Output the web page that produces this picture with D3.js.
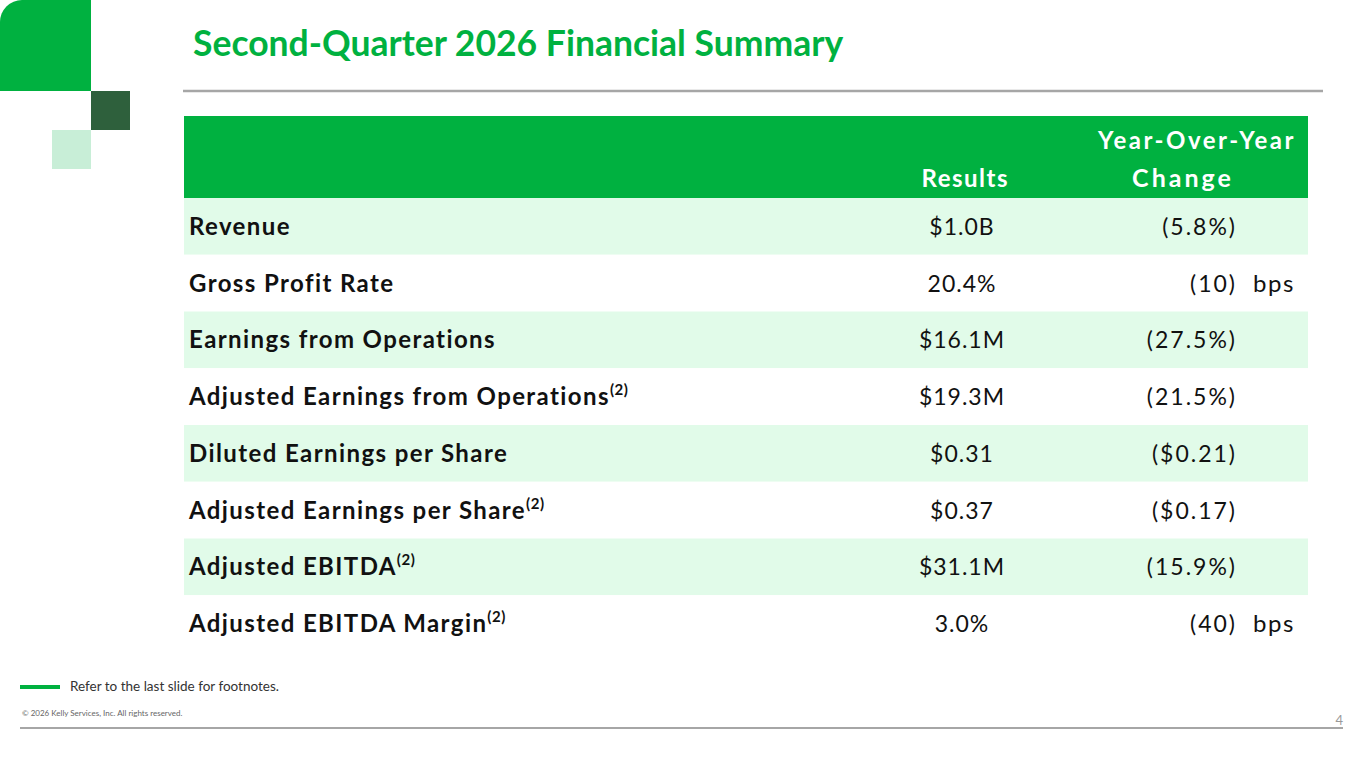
<!DOCTYPE html>
<html>
<head>
<meta charset="utf-8">
<script src="https://cdn.jsdelivr.net/npm/d3@7"></script>
<style>
body{margin:0;background:#fff;}
svg{display:block;font-family:Lato,"Noto Sans",sans-serif;}
</style>
</head>
<body>
<div id="chart"></div>
<script>
// table content
var metrics = ["Revenue","Gross Profit Rate","Earnings from Operations","Adjusted Earnings from Operations",
  "Diluted Earnings per Share","Adjusted Earnings per Share","Adjusted EBITDA","Adjusted EBITDA Margin"];
var footnote = ["","","","(2)","","(2)","(2)","(2)"];
var results = ["$1.0B","20.4%","$16.1M","$19.3M","$0.31","$0.37","$31.1M","3.0%"];
var changes = ["(5.8%)","(10)","(27.5%)","(21.5%)","($0.21)","($0.17)","(15.9%)","(40)"];
var units = ["","bps","","","","","","bps"];
var headers = ["Results","Year-Over-Year","Change"];

var width = 1365, height = 768;
var green = "#00b140", darkGreen = "#2e603c", paleGreen = "#c8eed7", rowGreen = "#e1fbe9";

var svg = d3.select("#chart").append("svg")
.attr("width", width)
.attr("height", height);

// corner decoration
svg.append("path")
.attr("d", "M0,22 A22,22 0 0 1 22,0 H91 V91 H0 Z")
.attr("fill", green);
svg.append("rect").attr("x",91).attr("y",91).attr("width",39).attr("height",39).attr("fill",darkGreen);
svg.append("rect").attr("x",52).attr("y",130).attr("width",39).attr("height",39).attr("fill",paleGreen);

svg.append("text")
.attr("x", 193).attr("y", 56)
.attr("fill", green)
.attr("font-size", 35.5).attr("font-weight", 700)
.text("Second-Quarter 2026 Financial Summary");

svg.append("line")
.attr("x1",183).attr("x2",1323).attr("y1",91).attr("y2",91)
.attr("stroke","#a6a6a6").attr("stroke-width",2.5);

// table
var left = 184, right = 1308;
var y = d3.scaleBand().domain(d3.range(metrics.length)).range([198, 652]);

svg.append("rect")
.attr("x", left).attr("y", 116).attr("width", right-left).attr("height", 82)
.attr("fill", green);

var head = svg.append("g").attr("fill","#fff").attr("font-size",24).attr("font-weight",700)
.attr("letter-spacing", 1.5);
head.append("text").attr("x",1009).attr("y",187).attr("text-anchor","end").text(headers[0]);
head.append("text").attr("x",1296).attr("y",149).attr("text-anchor","end")
.attr("letter-spacing", 2.5).text(headers[1]);
head.append("text").attr("x",1183).attr("y",187).attr("text-anchor","middle")
.attr("font-size", 25).attr("letter-spacing", 3).text(headers[2]);

var rows = svg.selectAll("g.row")
.data(metrics)
.enter().append("g")
.attr("class","row")
.attr("transform", function(d,i){return "translate(0," + y(i) + ")";});

rows.append("rect")
.attr("x", left).attr("width", right-left).attr("height", y.bandwidth())
.attr("fill", function(d,i){return i % 2 == 0 ? rowGreen : "#fff";});

var mid = y.bandwidth()/2 + 8.5;

var lab = rows.append("text")
.attr("x", 189).attr("y", mid)
.attr("font-size", 24).attr("font-weight", 700).attr("fill", "#111")
.attr("letter-spacing", 1.4);
lab.append("tspan").text(function(d){return d;});
lab.append("tspan")
.attr("font-size", 15).attr("dy", -10).attr("letter-spacing", 0.5)
.text(function(d,i){return footnote[i];});

rows.append("text")
.attr("x", 962).attr("y", mid)
.attr("text-anchor","middle")
.attr("font-size", 23).attr("fill", "#111").attr("letter-spacing", 1)
.text(function(d,i){return results[i];});

rows.append("text")
.attr("x", 1237).attr("y", mid)
.attr("text-anchor","end")
.attr("font-size", 23).attr("fill", "#111").attr("letter-spacing", 2)
.text(function(d,i){return changes[i];});

rows.append("text")
.attr("x", 1253).attr("y", mid)
.attr("font-size", 24).attr("fill", "#111").attr("letter-spacing", 1.5)
.text(function(d,i){return units[i];});

// footer
svg.append("line").attr("x1",20).attr("x2",60).attr("y1",687).attr("y2",687)
.attr("stroke",green).attr("stroke-width",4);
svg.append("text").attr("x",70).attr("y",691)
.attr("font-size",13.5).attr("fill","#333")
.text("Refer to the last slide for footnotes.");
svg.append("text").attr("x",22).attr("y",716)
.attr("font-size",8).attr("fill","#666")
.text("\u00a9 2026 Kelly Services, Inc. All rights reserved.");
svg.append("line").attr("x1",20).attr("x2",1343).attr("y1",728).attr("y2",728)
.attr("stroke","#a6a6a6").attr("stroke-width",2);
svg.append("text").attr("x",1343).attr("y",725)
.attr("text-anchor","end")
.attr("font-size",13).attr("fill","#999")
.text("4");
</script>
</body>
</html>
